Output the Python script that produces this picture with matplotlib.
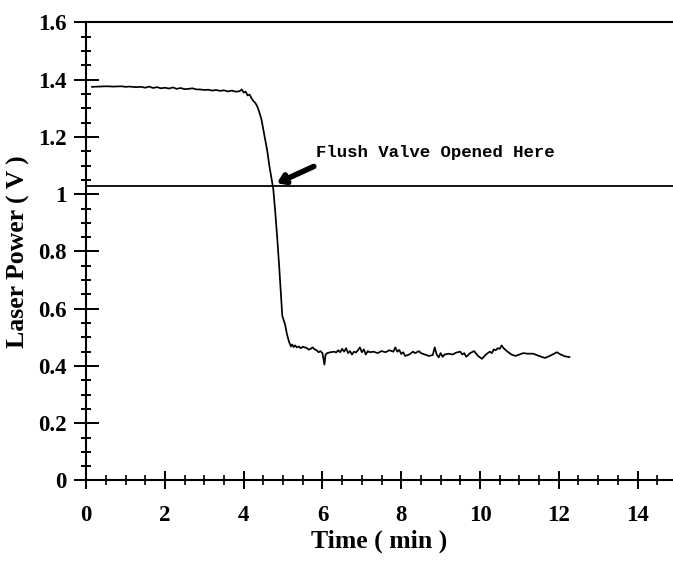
import matplotlib
matplotlib.use("Agg")
import matplotlib.pyplot as plt
from matplotlib.ticker import MultipleLocator, FuncFormatter

time_min = [0.15, 0.3, 0.5, 0.7, 0.9, 1.0, 1.1, 1.25, 1.4, 1.5, 1.6, 1.7, 1.8, 1.9, 2.0,
            2.1, 2.2, 2.3, 2.4, 2.5, 2.6, 2.7, 2.8, 2.9, 3.0, 3.1, 3.2, 3.3, 3.4, 3.5,
            3.6, 3.7, 3.8, 3.9, 3.95, 4.0, 4.05, 4.1, 4.15, 4.2, 4.25, 4.3, 4.35, 4.4,
            4.45, 4.5, 4.55, 4.6, 4.65, 4.7, 4.75, 4.8, 4.85, 4.9, 4.95, 4.98, 5.05,
            5.1, 5.15, 5.2, 5.23, 5.27, 5.3, 5.35, 5.4, 5.45, 5.5, 5.55, 5.6, 5.65,
            5.7, 5.75, 5.8, 5.85, 5.9, 5.95, 6.0, 6.05, 6.08, 6.12, 6.2, 6.3, 6.35,
            6.4, 6.45, 6.5, 6.55, 6.6, 6.65, 6.7, 6.75, 6.8, 6.85, 6.9, 6.95, 7.0,
            7.05, 7.1, 7.15, 7.2, 7.3, 7.4, 7.5, 7.6, 7.7, 7.8, 7.85, 7.9, 7.95, 8.0,
            8.05, 8.1, 8.2, 8.3, 8.35, 8.45, 8.5, 8.6, 8.7, 8.8, 8.85, 8.9, 8.95, 9.0,
            9.05, 9.1, 9.2, 9.3, 9.4, 9.5, 9.55, 9.6, 9.65, 9.75, 9.85, 9.95, 10.05,
            10.15, 10.25, 10.3, 10.35, 10.4, 10.45, 10.5, 10.55, 10.6, 10.7, 10.8,
            10.9, 11.0, 11.1, 11.2, 11.35, 11.5, 11.65, 11.8, 11.95, 12.05, 12.15, 12.27]
laser_power = [1.375, 1.376, 1.377, 1.376, 1.377, 1.375, 1.376, 1.374, 1.375, 1.372, 1.376,
               1.371, 1.374, 1.370, 1.372, 1.369, 1.373, 1.368, 1.371, 1.367, 1.368, 1.370,
               1.366, 1.366, 1.364, 1.365, 1.362, 1.364, 1.361, 1.363, 1.359, 1.362, 1.358,
               1.360, 1.366, 1.355, 1.358, 1.345, 1.348, 1.335, 1.325, 1.318, 1.305, 1.285,
               1.262, 1.225, 1.19, 1.15, 1.10, 1.06, 1.02, 0.94, 0.85, 0.75, 0.64, 0.575,
               0.545, 0.51, 0.485, 0.468, 0.475, 0.466, 0.472, 0.465, 0.468, 0.462, 0.467,
               0.465, 0.463, 0.457, 0.46, 0.465, 0.458, 0.455, 0.448, 0.452, 0.445, 0.405,
               0.44, 0.445, 0.448, 0.45, 0.447, 0.455, 0.448, 0.46, 0.45, 0.462, 0.445,
               0.452, 0.44, 0.45, 0.447, 0.455, 0.465, 0.448, 0.458, 0.44, 0.452, 0.448,
               0.45, 0.445, 0.452, 0.448, 0.455, 0.45, 0.465, 0.45, 0.456, 0.442, 0.448,
               0.435, 0.44, 0.45, 0.445, 0.452, 0.445, 0.44, 0.435, 0.438, 0.465, 0.44,
               0.43, 0.445, 0.432, 0.44, 0.443, 0.44, 0.447, 0.45, 0.44, 0.445, 0.432,
               0.445, 0.452, 0.435, 0.425, 0.44, 0.45, 0.445, 0.458, 0.455, 0.462, 0.46,
               0.472, 0.462, 0.45, 0.44, 0.435, 0.44, 0.445, 0.443, 0.443, 0.435, 0.428,
               0.437, 0.448, 0.44, 0.434, 0.431]
ref_level = 1.028
annotation_text = "Flush Valve Opened Here"
x_label = "Time ( min )"
y_label = "Laser Power ( V )"

fig = plt.figure(figsize=(6.73, 5.61), dpi=100)
ax = fig.add_axes([0.128, 0.1435, 0.872, 0.8165])

ax.plot(time_min, laser_power, color="black", lw=1.25)
ax.axhline(ref_level, color="black", lw=1.3)

ax.set_xlim(0, 14.9)
ax.set_ylim(0, 1.6)

serif = "Liberation Serif"
ax.xaxis.set_major_locator(MultipleLocator(2))
ax.xaxis.set_minor_locator(MultipleLocator(0.5))
ax.yaxis.set_major_locator(MultipleLocator(0.2))
ax.yaxis.set_minor_locator(MultipleLocator(0.05))
ax.yaxis.set_major_formatter(FuncFormatter(lambda v, p: f"{v:g}"))
ax.xaxis.set_major_formatter(FuncFormatter(lambda v, p: f"{v:g}"))

ax.tick_params(axis="y", which="major", direction="inout", length=18, width=1.4, pad=5)
ax.tick_params(axis="y", which="minor", direction="inout", length=7.5, width=1.4)
ax.tick_params(axis="x", which="major", direction="inout", length=13, width=1.4, pad=11)
ax.tick_params(axis="x", which="minor", direction="inout", length=7, width=1.2)
for lab in ax.get_xticklabels() + ax.get_yticklabels():
    lab.set_fontfamily(serif)
    lab.set_fontweight("bold")
    lab.set_fontsize(16.5)

for s in ["left", "bottom", "top"]:
    ax.spines[s].set_linewidth(1.5)
ax.spines["right"].set_visible(False)

ax.set_xlabel(x_label, fontfamily=serif, fontweight="bold", fontsize=18.5, labelpad=3)
ax.set_ylabel(y_label, fontfamily=serif, fontweight="bold", fontsize=18.5, labelpad=6)

ax.annotate("", xy=(4.84, 1.038), xytext=(5.78, 1.097),
            arrowprops=dict(arrowstyle="-|>,head_length=0.45,head_width=0.3",
                            color="black", lw=4, shrinkA=0, shrinkB=0))
ax.text(5.84, 1.147, annotation_text, fontfamily="Liberation Mono", fontweight="bold",
        fontsize=12.5, va="center", ha="left")

fig.savefig("out.png", dpi=100)
